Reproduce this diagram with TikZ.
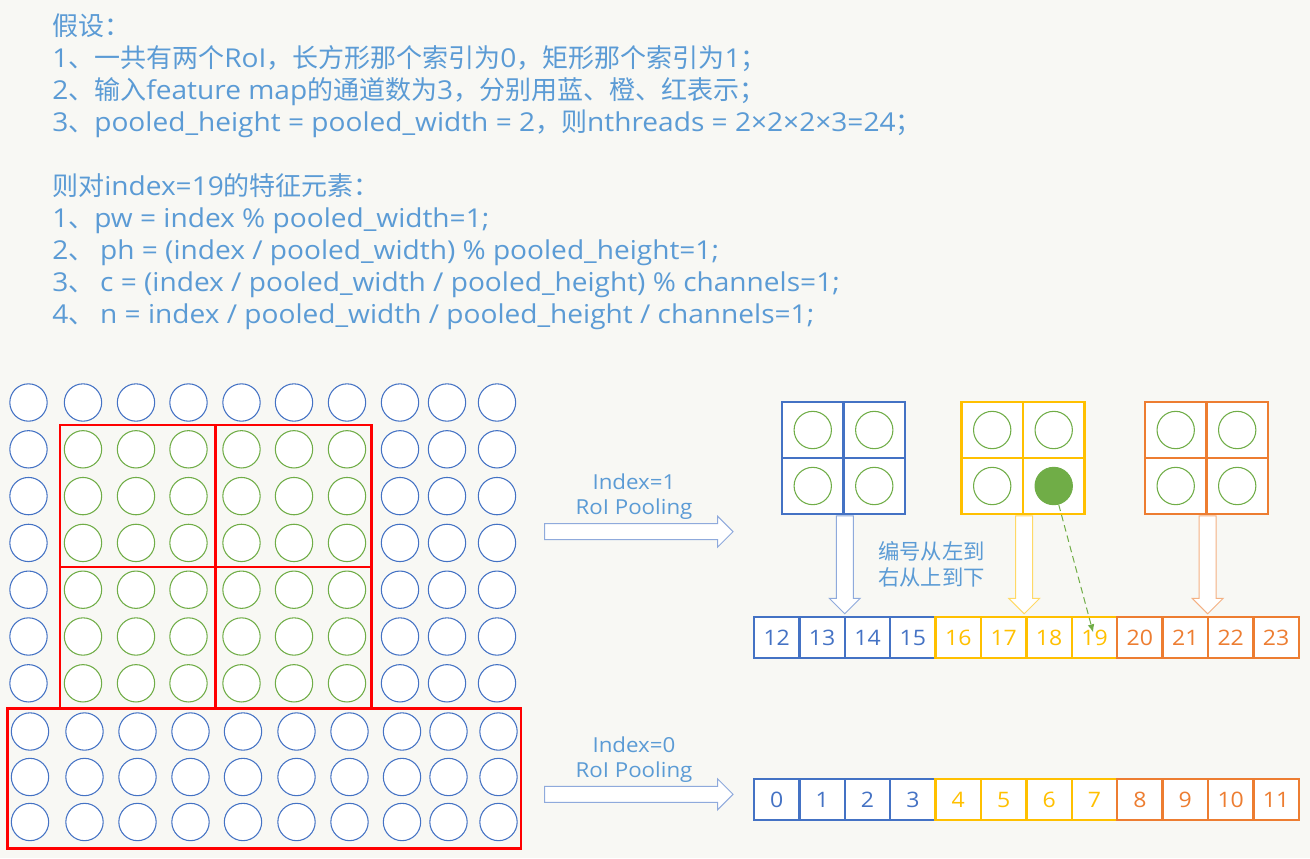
\documentclass[tikz,border=0pt]{standalone}
\usepackage{fontspec}
\setmainfont{Noto Sans CJK SC}
\newfontfamily\latfont[FakeStretch=1.08]{Open Sans}
\newfontfamily\cjkfont{Noto Sans CJK SC}
% Latin runs in Open Sans, Chinese runs in Noto Sans CJK
\XeTeXinterchartokenstate=1
\newXeTeXintercharclass\cjkcls
\count255="3000 \loop\ifnum\count255<"3040 \XeTeXcharclass\count255=\cjkcls \advance\count255 by 1 \repeat
\count255="4E00 \loop\ifnum\count255<"A000 \XeTeXcharclass\count255=\cjkcls \advance\count255 by 1 \repeat
\count255="FF00 \loop\ifnum\count255<"FFF0 \XeTeXcharclass\count255=\cjkcls \advance\count255 by 1 \repeat
\XeTeXinterchartoks 0 \cjkcls = {\cjkfont}
\XeTeXinterchartoks 4095 \cjkcls = {\cjkfont}
\XeTeXinterchartoks \cjkcls 0 = {\latfont}
\XeTeXinterchartoks 4095 0 = {\latfont}
\usepackage{tikz}
\usetikzlibrary{positioning}
\usetikzlibrary{shapes.arrows}
\usetikzlibrary{arrows.meta}
\pgfdeclarelayer{background}
\pgfdeclarelayer{nodelayer}
\pgfdeclarelayer{edgelayer}
\pgfsetlayers{background,edgelayer,nodelayer,main}
\definecolor{bgc}{HTML}{F8F8F4}
\definecolor{txt}{HTML}{5B9BD5}
\definecolor{cblue}{HTML}{4472C4}
\definecolor{cgreen}{HTML}{70AD47}
\definecolor{cyel}{HTML}{FFC000}
\definecolor{cora}{HTML}{ED7D31}
\definecolor{lblue}{HTML}{8FAADC}
\definecolor{lyel}{HTML}{FFD966}
\definecolor{lora}{HTML}{F4B183}
\definecolor{roired}{HTML}{FF0000}
\tikzset{cb/.style={circle, draw=cblue, fill=white, line width=0.8pt, minimum size=28pt, inner sep=0pt}}
\tikzset{cg/.style={cb, draw=cgreen}}
\tikzset{roi/.style={draw=roired, line width=2.2pt}}
\tikzset{cell/.style={rectangle, fill=white, line width=1.9pt, minimum width=46.1pt, minimum height=42pt, inner sep=0pt}}
\tikzset{num/.style={cell, minimum width=34.05pt, minimum height=30.75pt, font=\fontsize{16}{16}\selectfont}}
\tikzset{note/.style={text=txt, inner sep=0pt, anchor=base west, font=\fontsize{19.5}{24}\selectfont}}
\tikzset{lbl/.style={text=txt, inner sep=0pt, anchor=base, font=\fontsize{15.5}{16}\selectfont}}
\tikzset{harrow/.style={single arrow, draw=lblue, fill=white, line width=0.75pt, inner sep=0pt, text height=11.25pt, text depth=0pt, text width=0pt, single arrow head extend=5.625pt, single arrow head indent=0pt, minimum height=141.4pt, minimum width=0pt, anchor=tail}}
\tikzset{darrow/.style={harrow, rotate=-90, text height=12pt, single arrow head extend=5.25pt, minimum height=73.5pt}}
\tikzset{pointer/.style={draw=cgreen, line width=0.75pt, dash pattern=on 5pt off 3pt, -{Latex[length=6pt,width=5pt]}, shorten >=4pt}}

\begin{document}
\begin{tikzpicture}[x=0.75pt,y=-0.75pt]
    \begin{pgfonlayer}{background}
        \fill[bgc] (0,0) rectangle (1310,858);
    \end{pgfonlayer}
    \useasboundingbox (0,0) rectangle (1310,858);
    \begin{pgfonlayer}{nodelayer}
        % assumptions
        \node [note] (h0) at (52,35) {假设：};
        \node [note] (h1) at (52,67.5) {1、一共有两个RoI，长方形那个索引为0，矩形那个索引为1；};
        \node [note] (h2) at (52,99.5) {2、输入feature map的通道数为3，分别用蓝、橙、红表示；};
        \node [note] (h3) at (52,131.5) {3、pooled\_height = pooled\_width = 2，则nthreads = 2×2×2×3=24；};
        \node [note] (k0) at (52,195) {则对index=19的特征元素：};
        \node [note] (k1) at (52,227.5) {1、pw = index \% pooled\_width=1;};
        \node [note] (k2) at (52,259.5) {2、\ ph = (index / pooled\_width) \% pooled\_height=1;};
        \node [note] (k3) at (52,291.5) {3、\ c = (index / pooled\_width / pooled\_height) \% channels=1;};
        \node [note] (k4) at (52,323) {4、\ n = index / pooled\_width / pooled\_height / channels=1;};
        % feature map
        \foreach \x [count=\i] in {28.5,83,136,188.5,241.5,294,347,400,447,497}
            \node [cb] (a\i) at (\x,402.5) {};
        \foreach \y [count=\j] in {449.3,496.1,542.9,589.7,636.5,683.3}{
            \foreach \x [count=\i] in {28.5,400,447,497}
                \node [cb] (e\j-\i) at (\x,\y) {};
            \foreach \x [count=\i] in {83,136,188.5,241.5,294,347}
                \node [cg] (g\j-\i) at (\x,\y) {};
        }
        \foreach \y [count=\j] in {731.5,777,822}
            \foreach \x [count=\i] in {30,84.5,137.5,190.5,243,296.5,349.5,402,448.5,498.5}
                \node [cb] (d\j-\i) at (\x,\y) {};
        % pooled bins
        \foreach \x/\col/\nm in {812.75/cblue/b, 992.2/cyel/y, 1175.7/cora/o}{
            \node [cell, draw=\col] (\nm1) at (\x,430) {};
            \node [cell, draw=\col] (\nm2) at (\x+61.5,430) {};
            \node [cell, draw=\col] (\nm3) at (\x,486) {};
            \node [cell, draw=\col] (\nm4) at (\x+61.5,486) {};
        }
        \foreach \nm in {b1,b2,b3,b4,y1,y2,y3,o1,o2,o3,o4}
            \node [cg] (c\nm) at (\nm) {};
        \node [cg, fill=cgreen] (dot) at (y4) {};
        % output
        \foreach \k/\col in {0/cblue,1/cblue,2/cblue,3/cblue,4/cyel,5/cyel,6/cyel,7/cyel,8/cora,9/cora,10/cora,11/cora}{
            \pgfmathtruncatemacro\m{\k+12}
            \node [num, draw=\col, text=\col] (t\k) at (776.7+45.4*\k,637.5) {\m};
            \node [num, draw=\col, text=\col] (s\k) at (776.7+45.4*\k,799.5) {\k};
        }
        \node [lbl] (l1) at (634,489) {Index=1};
        \node [lbl] (l2) at (634,514) {RoI Pooling};
        \node [lbl] (l3) at (634,752.3) {Index=0};
        \node [lbl] (l4) at (634,777.3) {RoI Pooling};
        \node [lbl, anchor=base west, font=\fontsize{16}{16}\selectfont] (m1) at (878,559) {编号从左到};
        \node [lbl, anchor=base west, font=\fontsize{16}{16}\selectfont] (m2) at (878,585.5) {右从上到下};
    \end{pgfonlayer}
    \begin{pgfonlayer}{edgelayer}
        \draw [roi] (60,425) rectangle (371.5,708);
        \draw [roi] (215.5,425) -- (215.5,708);
        \draw [roi] (60,567) -- (371.5,567);
        \draw [roi] (7.5,708.5) rectangle (521,848.5);
        \node [harrow] (p1) at (544,531.7) {};
        \node [harrow] (p0) at (544,794.3) {};
        \node [darrow] (qb) at (b3.south east) {};
        \node [darrow, draw=lyel] (qy) at (y3.south east) {};
        \node [darrow, draw=lora] (qo) at (o3.south east) {};
    \end{pgfonlayer}
    \draw [pointer] (dot) to (t7.center);
\end{tikzpicture}
\end{document}
